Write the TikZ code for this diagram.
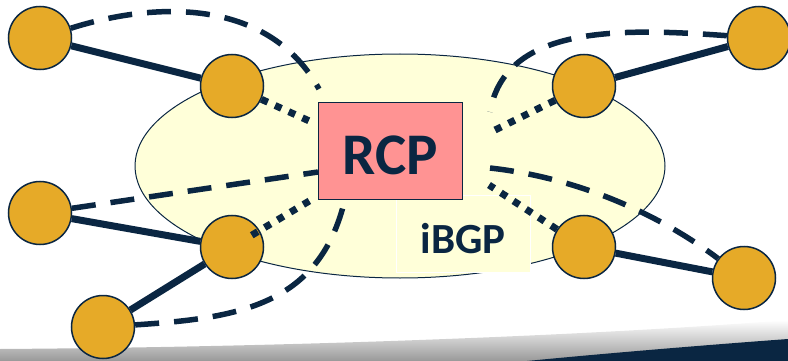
\documentclass[tikz,border=0pt]{standalone}
\usepackage{fontspec}
\setsansfont{Carlito}
\definecolor{navy}{RGB}{10,38,66}
\definecolor{gold}{RGB}{230,170,40}
\definecolor{cream}{RGB}{255,255,217}
\definecolor{salmon}{RGB}{255,147,147}
\pgfdeclarelayer{back}
\pgfdeclarelayer{edges}
\pgfsetlayers{back,edges,main}

\begin{document}
\begin{tikzpicture}[x=1pt,y=-1pt,
    router/.style={circle,draw=navy,fill=gold,line width=1.5pt,minimum size=63pt,inner sep=0pt},
    link/.style={navy,line width=7pt},
    ebgp line/.style={navy,line width=5.5pt,dash pattern=on 24pt off 15pt},
    ibgp line/.style={navy,line width=7pt,dash pattern=on 7pt off 8pt},
    big/.style={font=\sffamily\bfseries\fontsize{#1}{#1}\selectfont,text=navy}]
    \useasboundingbox (0,0) rectangle (788,361);

    \node[router] (1) at (40,38) {};
    \node[router] (2) at (232,86) {};
    \node[router] (3) at (584,86) {};
    \node[router] (4) at (759,38) {};
    \node[router] (5) at (40,213) {};
    \node[router] (6) at (232,247) {};
    \node[router] (7) at (103,327) {};
    \node[router] (8) at (584,247) {};
    \node[router] (9) at (744,278) {};
    \node[draw=navy,fill=salmon,line width=1pt,minimum width=144pt,minimum height=96pt,
        text height=48pt,text depth=0pt,big=59] (rcp) at (390,151) {RCP};

    \coordinate (s1) at (319,89);
    \coordinate (s2) at (316,124);
    \coordinate (s3) at (489,133);
    \coordinate (s4) at (490,112);
    \coordinate (s5) at (318,172);
    \coordinate (s6) at (316,197);
    \coordinate (s7) at (345,199);
    \coordinate (s8) at (489,185);
    \coordinate (s9) at (490,168);

    \begin{pgfonlayer}{back}
        \shade[top color=white,bottom color=black!40] (0,349) .. controls (300,347) and (600,335) .. (788,320) -- (788,361) -- (0,361) -- cycle;
        \fill[navy] (527,361) .. controls (620,352) and (720,344) .. (788,339) -- (788,361) -- cycle;
        \draw[navy,line width=1pt,fill=cream] (400,166) ellipse (265 and 112);
        \node[draw=white,fill=cream,line width=1pt,minimum width=134pt,minimum height=77pt,
            text height=39pt,text depth=0pt,big=43] (lbl) at (463,233.5) {iBGP};
    \end{pgfonlayer}

    \begin{pgfonlayer}{edges}
        \path
            (1) edge[link] (2)
            (3) edge[link] (4)
            (5) edge[link] (6)
            (6) edge[link] (7)
            (8) edge[link] (9)
            (2) edge[ibgp line] (s2)
            (3) edge[ibgp line] (s3)
            (8) edge[ibgp line] (s8)
            (5) edge[ebgp line] (s5)
        ;
        \draw[ebgp line] (1) .. controls (160,0) and (270,0) .. (s1);
        \draw[ebgp line] (4) .. controls (620,28) and (505,25) .. (s4);
        \draw[ebgp line] (7) .. controls (240,318) and (320,305) .. (s7);
        \draw[ebgp line] (s9) .. controls (580,178) and (660,215) .. (9);
    \end{pgfonlayer}

    \draw[ibgp line,shorten <=23pt] (6.center) -- (s6);
\end{tikzpicture}
\end{document}
